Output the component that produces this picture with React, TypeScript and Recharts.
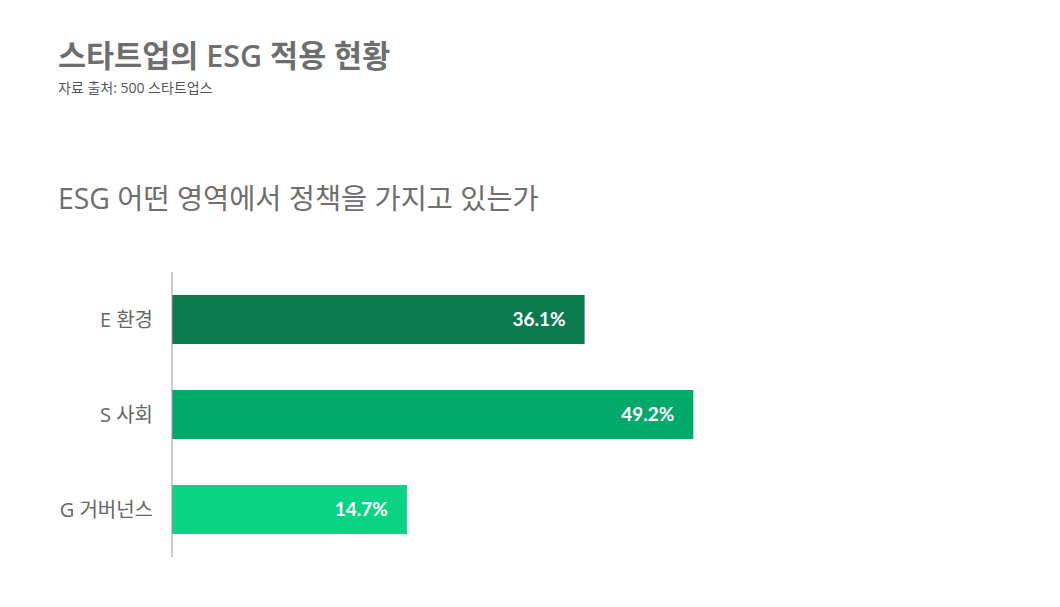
import { BarChart, Bar, XAxis, YAxis, Cell, LabelList } from 'recharts';

const categories = ['E 환경', 'S 사회', 'G 거버넌스'];
const values = [36.1, 49.2, 14.7];
const colors = ['#0b7b4f', '#03a96b', '#0bd386'];

// 원본 차트는 막대가 0이 아니라 왼쪽 끝에서 시작함
const AXIS_MIN = -13.6;
const AXIS_MAX = 60;

const data = categories.map((name, i) => ({ name, value: values[i] }));

const FONT = "'Open Sans', 'Noto Sans CJK KR', sans-serif";
const NUM_FONT = "Lato, 'Noto Sans CJK KR', sans-serif";

export default function App() {
    return (
        <div style={{ position: 'absolute', left: 0, top: 0, width: 1060, height: 607, background: '#fff', fontFamily: FONT }}>
            <div style={{ position: 'absolute', left: 58, top: 34, fontSize: 30.5, fontWeight: 600, color: '#6e6e6e', lineHeight: '42px' }}>
                스타트업의 ESG 적용 현황
            </div>
            <div style={{ position: 'absolute', left: 58, top: 78, fontSize: 14, color: '#555', lineHeight: '20px' }}>
                자료 출처: 500 스타트업스
            </div>
            <div style={{ position: 'absolute', left: 58, top: 178, fontSize: 28.4, color: '#6e6e6e', lineHeight: '40px' }}>
                ESG 어떤 영역에서 정책을 가지고 있는가
            </div>
            <div style={{ position: 'absolute', left: 0, top: 0 }}>
                <BarChart
                    width={1060}
                    height={607}
                    data={data}
                    layout="vertical"
                    margin={{ top: 272, right: 277, bottom: 50, left: 0 }}
                    barSize={49}
                >
                    <XAxis type="number" domain={[AXIS_MIN, AXIS_MAX]} hide allowDataOverflow />
                    <YAxis
                        type="category"
                        dataKey="name"
                        width={172}
                        tickLine={false}
                        tickSize={0}
                        tickMargin={19}
                        axisLine={{ stroke: '#999' }}
                        tick={{ fill: '#666', fontSize: 20, fontFamily: FONT }}
                    />
                    <Bar dataKey={(d) => [AXIS_MIN, d.value]} isAnimationActive={false}>
                        {data.map((item, index) => (
                            <Cell key={`cell-${index}`} fill={colors[index]} />
                        ))}
                        <LabelList
                            dataKey="value"
                            position="insideRight"
                            offset={19}
                            formatter={(v) => `${v}%`}
                            style={{ fill: '#fff', fontSize: 19, fontWeight: 700, fontFamily: NUM_FONT }}
                        />
                    </Bar>
                </BarChart>
            </div>
        </div>
    );
}
